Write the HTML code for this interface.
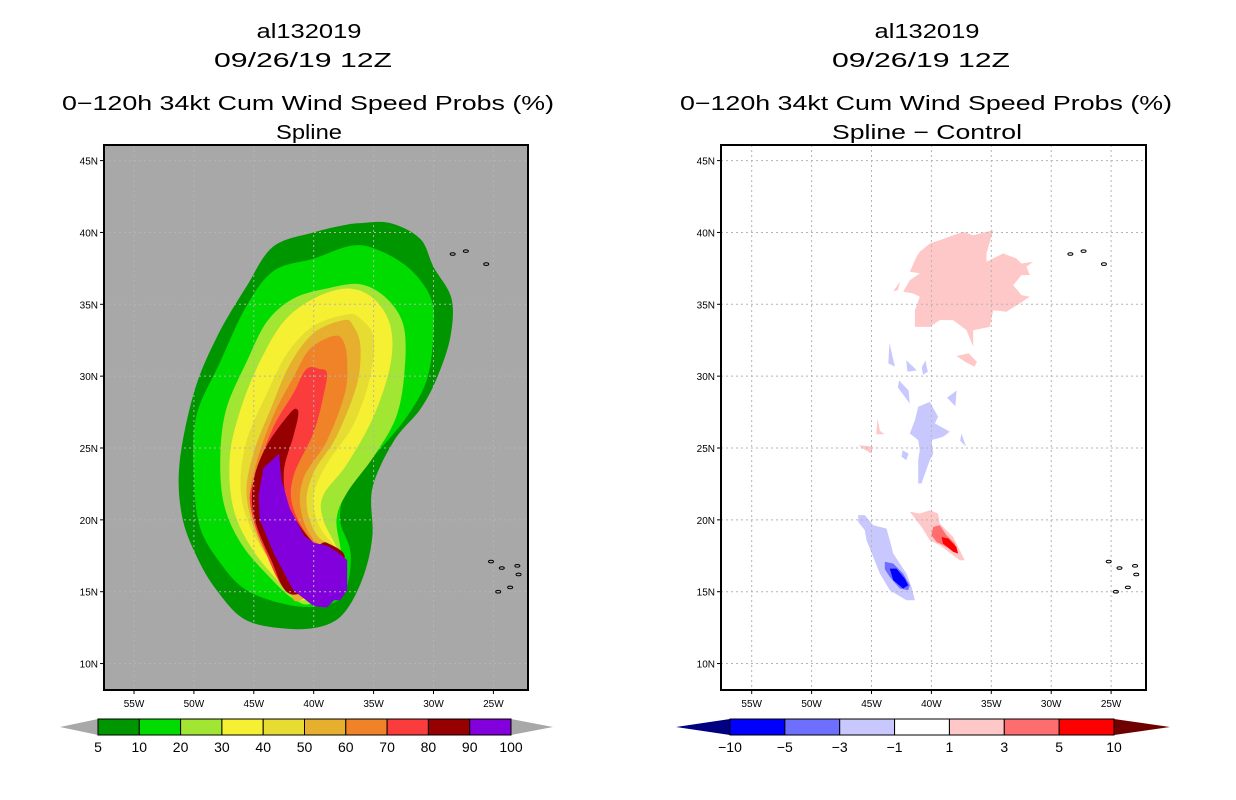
<!DOCTYPE html>
<html><head><meta charset="utf-8"><style>
html,body{margin:0;padding:0;background:#fff;}
svg{display:block;font-family:"Liberation Sans",sans-serif;}
</style></head><body>
<svg id="fig" width="1236" height="800" viewBox="0 0 1236 800" xmlns="http://www.w3.org/2000/svg">
<g id="titles">
<text x="309" y="38" font-size="20" text-anchor="middle" textLength="105" lengthAdjust="spacingAndGlyphs">al132019</text>
<text x="303" y="67" font-size="20" text-anchor="middle" textLength="178" lengthAdjust="spacingAndGlyphs">09/26/19 12Z</text>
<text x="308" y="110" font-size="20" text-anchor="middle" textLength="492" lengthAdjust="spacingAndGlyphs">0−120h 34kt Cum Wind Speed Probs (%)</text>
<text x="309" y="139" font-size="20" text-anchor="middle" textLength="66" lengthAdjust="spacingAndGlyphs">Spline</text>
<text x="927" y="38" font-size="20" text-anchor="middle" textLength="105" lengthAdjust="spacingAndGlyphs">al132019</text>
<text x="921" y="67" font-size="20" text-anchor="middle" textLength="178" lengthAdjust="spacingAndGlyphs">09/26/19 12Z</text>
<text x="926" y="110" font-size="20" text-anchor="middle" textLength="492" lengthAdjust="spacingAndGlyphs">0−120h 34kt Cum Wind Speed Probs (%)</text>
<text x="927" y="139" font-size="20" text-anchor="middle" textLength="190" lengthAdjust="spacingAndGlyphs">Spline − Control</text>
</g>
</svg>
<script>
// ---- data ----
const lonTicks = [-55,-50,-45,-40,-35,-30,-25];
const latTicks = [45,40,35,30,25,20,15,10];
const probLevels = [5,10,20,30,40,50,60,70,80,90,100];
const probColors = ["#009600","#00dc00","#a0e632","#f5f032","#e6dc32","#e6af2d","#f08228","#fa3c3c","#960000","#8200dc"];
const diffLevels = [-10,-5,-3,-1,1,3,5,10];
const diffColors = ["#000080","#0000ff","#6e6eff","#c8c8ff","#ffffff","#ffc8c8","#ff6e6e","#ff0000","#6e0000"];
// probability contour polygons [lon,lat]
const p5 = [[-40.0,40.0],[-43.4,39.0],[-45.6,36.25],[-48.1,32.7],[-50.0,28.85],[-51.2,23.9],[-51.0,20.3],[-49.8,17.5],[-48.1,15.1],[-45.6,13.0],[-41.7,12.4],[-38.9,12.7],[-37.2,13.8],[-35.8,16.2],[-35.1,18.9],[-35.1,22.2],[-33.3,25.5],[-31.1,27.7],[-29.7,29.9],[-28.6,32.7],[-28.5,35.4],[-30.0,37.6],[-31.1,39.55],[-33.6,40.65],[-36.1,40.65],[-37.5,40.5]];
const p10 = [[-40.0,38.18],[-43.3,37.35],[-45.6,34.9],[-47.8,31.0],[-49.8,27.2],[-50.0,23.0],[-49.5,19.5],[-47.8,17.0],[-45.6,15.1],[-42.2,14.1],[-39.5,14.0],[-37.5,14.8],[-36.9,17.6],[-37.8,20.0],[-37.2,22.2],[-35.0,24.4],[-32.2,27.2],[-30.5,29.9],[-30.0,33.2],[-30.2,35.4],[-31.9,37.4],[-34.4,38.7],[-36.7,39.1]];
const p20 = [[-38.9,36.1],[-41.7,35.4],[-43.9,33.8],[-45.6,31.0],[-47.3,27.7],[-47.8,24.4],[-47.5,21.1],[-46.1,18.4],[-43.9,16.2],[-41.7,14.5],[-40.0,14.3],[-37.8,17.0],[-38.1,20.0],[-37.2,21.9],[-35.0,24.4],[-33.1,27.2],[-32.4,30.5],[-32.5,33.5],[-33.9,35.4],[-36.1,36.4]];
const p30 = [[-37.2,36.1],[-40.0,35.4],[-42.5,33.8],[-44.5,31.0],[-46.1,27.7],[-47.0,24.4],[-46.7,20.8],[-45.0,17.8],[-42.2,15.1],[-40.8,14.4],[-38.9,15.6],[-37.8,17.3],[-39.2,20.0],[-39.2,21.7],[-37.2,23.9],[-35.0,27.2],[-33.6,30.8],[-33.6,33.5],[-35.0,35.4]];
const p40 = [[-37.2,34.3],[-40.0,33.5],[-42.2,31.6],[-43.9,28.8],[-45.6,25.5],[-46.1,22.2],[-45.3,19.5],[-43.3,16.7],[-41.1,14.5],[-38.9,15.9],[-37.6,17.3],[-39.5,19.5],[-40.0,21.7],[-38.9,23.9],[-36.7,26.6],[-35.3,29.9],[-35.0,32.7],[-36.1,34.0]];
const p50 = [[-37.5,33.9],[-40.0,33.0],[-42.0,30.8],[-43.6,27.7],[-45.0,24.7],[-45.6,21.7],[-44.5,18.4],[-42.2,15.4],[-41.1,14.4],[-37.5,17.3],[-39.7,18.9],[-40.6,21.1],[-40.0,23.3],[-38.1,25.8],[-36.4,29.4],[-36.1,32.1],[-36.7,33.5]];
const p60 = [[-38.3,32.8],[-40.3,31.9],[-41.7,29.9],[-43.4,27.2],[-44.8,23.9],[-45.3,21.1],[-43.9,17.8],[-41.7,14.8],[-37.5,17.3],[-40.0,18.6],[-41.1,20.8],[-40.8,23.0],[-38.9,25.5],[-37.4,28.8],[-37.2,31.0],[-37.5,32.4]];
const p70 = [[-39.5,30.5],[-40.6,30.5],[-41.7,28.8],[-43.4,26.4],[-44.9,23.0],[-45.3,21.1],[-44.2,18.1],[-41.7,14.8],[-37.5,17.3],[-40.0,18.4],[-41.7,20.8],[-41.7,23.0],[-40.0,26.1],[-39.2,28.6],[-38.9,30.2]];
const p80 = [[-41.4,27.7],[-42.0,27.4],[-43.9,25.2],[-45.0,22.8],[-45.0,20.3],[-43.6,17.3],[-41.7,14.8],[-37.5,17.2],[-38.9,18.4],[-40.0,18.4],[-42.0,20.8],[-42.5,23.3],[-41.7,25.8],[-41.3,27.2]];
const p90 = [[-42.9,24.6],[-44.2,23.6],[-44.6,21.7],[-44.5,20.0],[-43.3,17.6],[-41.7,15.1],[-40.0,14.0],[-38.9,13.9],[-38.3,14.4],[-37.8,14.4],[-37.2,15.1],[-37.2,17.2],[-38.1,17.8],[-38.9,18.2],[-40.0,18.4],[-40.8,18.9],[-42.0,20.8],[-42.7,22.8]];
// difference field blobs [lon,lat]
const dPinkBig = [[-40.13,39.23],[-39.30,39.47],[-37.35,40.05],[-36.51,39.81],[-34.84,40.16],[-35.40,38.54],[-35.40,37.96],[-34.01,38.54],[-32.90,38.19],[-32.48,37.84],[-31.51,37.96],[-32.06,37.61],[-31.78,37.03],[-32.48,37.03],[-33.17,36.33],[-32.48,35.64],[-31.78,35.52],[-32.62,35.06],[-33.73,34.48],[-34.84,34.59],[-35.12,33.43],[-36.51,33.20],[-36.51,32.04],[-37.07,33.20],[-38.18,33.90],[-39.30,33.90],[-40.13,33.43],[-41.38,33.43],[-41.38,34.59],[-40.97,35.52],[-41.52,35.75],[-42.36,35.87],[-41.80,36.68],[-40.97,37.15],[-41.80,37.26],[-41.24,38.31],[-40.97,38.66]];
const dPinkSmall1 = [[-43.2,35.9],[-42.6,36.6],[-42.8,36.0]];
const dPinkSmall2 = [[-37.9,31.4],[-36.9,31.6],[-36.2,31.0],[-36.4,30.65],[-37.2,31.0]];
const dPinkSmall3 = [[-44.5,27.05],[-44.3,26.2],[-43.9,25.95],[-44.6,25.95]];
const dPinkSmall4 = [[-46.1,25.2],[-44.9,25.1],[-45.0,24.6],[-45.6,24.9]];
const dBlueMain = [[-41.10,27.87],[-40.13,28.21],[-39.44,27.17],[-39.71,26.71],[-38.46,26.13],[-39.02,25.78],[-39.99,25.55],[-39.85,24.62],[-40.13,24.15],[-40.83,22.53],[-41.10,22.53],[-41.10,24.15],[-40.97,24.85],[-41.10,25.55],[-41.80,26.01],[-41.38,26.94]];
const dBlueA = [[-43.5,32.3],[-43.05,30.65],[-43.6,30.9]];
const dBlueB = [[-42.1,31.1],[-41.2,30.4],[-42.0,30.3]];
const dBlueC = [[-40.5,31.1],[-40.3,30.3],[-40.7,30.1],[-40.8,30.6]];
const dBlueD = [[-42.7,29.7],[-41.9,29.0],[-41.8,28.1],[-42.8,29.2]];
const dBlueE = [[-37.9,29.0],[-38.0,27.9],[-38.7,28.5]];
const dBlueF = [[-42.4,24.85],[-41.9,24.6],[-42.1,24.15],[-42.5,24.4]];
const dBlueG = [[-37.5,26.0],[-37.1,25.1],[-37.6,25.5]];
const dLowBlue1 = [[-46.11,20.33],[-45.56,20.33],[-44.86,19.63],[-43.75,19.40],[-43.47,18.58],[-43.19,17.66],[-42.08,16.26],[-41.66,15.34],[-41.38,14.41],[-42.08,14.41],[-43.47,15.10],[-44.30,16.26],[-45.42,18.58],[-45.56,19.28],[-46.11,19.86]];
const dLowBlue2 = [[-43.89,17.08],[-43.19,16.96],[-42.36,16.26],[-41.80,15.45],[-41.94,15.10],[-42.64,15.22],[-43.47,16.03],[-43.89,16.56]];
const dLowBlue3 = [[-43.47,16.61],[-42.91,16.61],[-42.22,15.91],[-41.94,15.45],[-42.36,15.22],[-43.19,15.80]];
const dLowPink1 = [[-41.80,20.56],[-40.97,20.44],[-40.13,20.67],[-39.44,20.44],[-39.30,19.74],[-38.18,18.81],[-37.21,17.19],[-37.63,17.19],[-39.30,18.24],[-40.13,18.58],[-40.83,19.51]];
const dLowPink2 = [[-39.85,19.51],[-39.30,19.63],[-38.74,18.93],[-38.04,18.35],[-37.91,17.89],[-38.74,18.12],[-39.58,18.47],[-40.00,18.93]];
const dLowPink3 = [[-39.16,18.81],[-38.60,18.70],[-37.91,18.12],[-37.77,17.66],[-38.18,17.77],[-39.02,18.35]];
const islands = [[-28.4,38.5],[-27.3,38.7],[-25.6,37.8],[-25.2,17.1],[-24.3,16.65],[-23.0,16.8],[-22.9,16.2],[-24.6,15.0],[-23.6,15.3]];

// ---- axes ----
const NS = "http://www.w3.org/2000/svg";
const svg = document.getElementById('fig');
const panels = [{x0:104,x1:528,lon0:134.0,name:'left'},{x0:721,x1:1146,lon0:751.7,name:'right'}];
const y0 = 145, y1 = 690;
function xOf(p, lon){ return p.lon0 + (lon + 55) * 11.98; }
function yOf(lat){ return 160.6 + (45 - lat) * 14.37; }
function mk(tag, attrs, parent){ const e = document.createElementNS(NS, tag); for (const k in attrs) e.setAttribute(k, attrs[k]); (parent || svg).appendChild(e); return e; }
function smoothPath(p, pts){
  const P = pts.map(d => [xOf(p, d[0]), yOf(d[1])]); const n = P.length;
  let s = 'M' + P[0][0].toFixed(1) + ' ' + P[0][1].toFixed(1);
  for (let i = 0; i < n; i++){
    const a = P[(i-1+n)%n], b = P[i], c = P[(i+1)%n], d = P[(i+2)%n];
    const c1 = [b[0] + (c[0]-a[0])/6, b[1] + (c[1]-a[1])/6];
    const c2 = [c[0] - (d[0]-b[0])/6, c[1] - (d[1]-b[1])/6];
    s += ' C' + c1[0].toFixed(1)+' '+c1[1].toFixed(1)+' '+c2[0].toFixed(1)+' '+c2[1].toFixed(1)+' '+c[0].toFixed(1)+' '+c[1].toFixed(1);
  }
  return s + 'Z';
}
function polyPath(p, pts){ return 'M' + pts.map(d => xOf(p,d[0]).toFixed(1)+' '+yOf(d[1]).toFixed(1)).join(' L') + 'Z'; }

panels.forEach((p, pi) => {
  const clipId = 'clip' + pi;
  const cp = mk('clipPath', {id: clipId});
  mk('rect', {x:p.x0, y:y0, width:p.x1-p.x0, height:y1-y0}, cp);
  const bg = mk('rect', {x:p.x0, y:y0, width:p.x1-p.x0, height:y1-y0, fill: pi===0 ? '#a8a8a8' : '#ffffff'});
  
  
  const g = mk('g', {'clip-path':'url(#'+clipId+')'});
  
  
  if (pi === 0){
    const layers = [p5,p10,p20,p30,p40,p50,p60,p70,p80,p90];
    layers.forEach((L, i) => {
      const e = mk('path', {d: i === 9 ? polyPath(p, L) : smoothPath(p, L), fill: probColors[i]}, g);
      
      
    });
  } else {
    const blobs = [[dPinkBig,5],[dPinkSmall1,5],[dPinkSmall2,5],[dPinkSmall3,5],[dPinkSmall4,5],
      [dBlueMain,3],[dBlueA,3],[dBlueB,3],[dBlueC,3],[dBlueD,3],[dBlueE,3],[dBlueF,3],[dBlueG,3],
      [dLowBlue1,3],[dLowBlue2,2],[dLowBlue3,1],[dLowPink1,5],[dLowPink2,6],[dLowPink3,7]];
    blobs.forEach((b, i) => {
      const e = mk('path', {d: polyPath(p, b[0]), fill: diffColors[b[1]]}, g);
      
      
    });
  }
  // grid
  lonTicks.forEach(lon => {
    const e = mk('line', {x1:xOf(p,lon), x2:xOf(p,lon), y1:y0, y2:y1, stroke:'#b4b4b4', 'stroke-width':1, 'stroke-dasharray':'2,3'}, g);
    
    
  });
  latTicks.forEach(lat => {
    const e = mk('line', {x1:p.x0, x2:p.x1, y1:yOf(lat), y2:yOf(lat), stroke:'#b4b4b4', 'stroke-width':1, 'stroke-dasharray':'2,3'}, g);
    
    
  });
  islands.forEach(d => {
    const e = mk('ellipse', {cx:xOf(p,d[0]), cy:yOf(d[1]), rx:2.5, ry:1.3, fill:'none', stroke:'#000', 'stroke-width':1}, g);
    
    
  });
  const fr = mk('rect', {x:p.x0, y:y0, width:p.x1-p.x0, height:y1-y0, fill:'none', stroke:'#000', 'stroke-width':2});
  
  
  lonTicks.forEach(lon => {
    const x = xOf(p, lon);
    mk('line', {x1:x, x2:x, y1:y1, y2:y1+4, stroke:'#000'});
    const t = mk('text', {x:x, y:y1+17, 'font-size':10, 'text-anchor':'middle'});
    t.textContent = Math.abs(lon) + 'W';
    
    
  });
  latTicks.forEach(lat => {
    const y = yOf(lat);
    mk('line', {x1:p.x0-4, x2:p.x0, y1:y, y2:y, stroke:'#000'});
    const t = mk('text', {x:p.x0-6, y:y+4, 'font-size':10, 'text-anchor':'end'});
    t.textContent = lat + 'N';
    
    
  });
});

// ---- colorbars ----
function colorbar(bx0, bx1, tipL, tipR, levels, colors, ends, name){
  const cy0 = 719, cy1 = 735, n = levels.length - 1 + (ends ? 0 : 0);
  const boxes = ends ? levels.length - 1 : levels.length - 1;
  const w = (bx1 - bx0) / boxes;
  const g = mk('g', {});
  
  
  const lc = ends ? colors[0] : '#a8a8a8', rc = ends ? colors[colors.length-1] : '#a8a8a8';
  const off = ends ? 1 : 0;
  const tl = mk('polygon', {points: bx0+','+cy0+' '+tipL+','+((cy0+cy1)/2)+' '+bx0+','+cy1, fill:lc}, g);
  
  
  const tr = mk('polygon', {points: bx1+','+cy0+' '+tipR+','+((cy0+cy1)/2)+' '+bx1+','+cy1, fill:rc}, g);
  
  
  for (let i = 0; i < boxes; i++){
    const r = mk('rect', {x:bx0+i*w, y:cy0, width:w, height:cy1-cy0, fill:colors[i+off], stroke:'#000', 'stroke-width':1}, g);
    
    
  }
  levels.forEach((v, i) => {
    const t = mk('text', {x:bx0+i*w, y:752, 'font-size':14, 'text-anchor':'middle'}, g);
    t.textContent = v < 0 ? '−' + Math.abs(v) : String(v);
    
    
  });
}
colorbar(98, 511, 60, 553, probLevels, probColors, false, 'prob-colorbar');
colorbar(730, 1114, 676, 1170, diffLevels, diffColors, true, 'diff-colorbar');
</script>
</body></html>
